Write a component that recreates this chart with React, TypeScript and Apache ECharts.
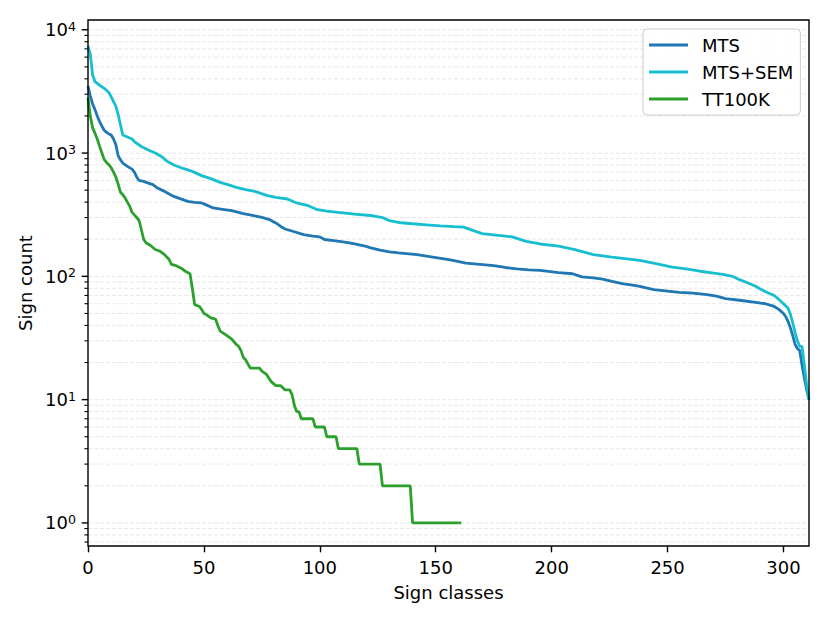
import React, { useEffect, useRef } from "react";
import * as echarts from "echarts";

const FONT = "DejaVu Sans";
const FS = 18;

const seriesNames = ["MTS", "MTS+SEM", "TT100K"];
const seriesColors = ["#1f77b4", "#17becf", "#2ca02c"];

const mtsClasses = [0, 1, 2, 3, 4, 5, 6, 7, 8, 9, 10, 11, 12, 13, 14, 15, 17, 19, 20, 21, 22, 24, 26, 28, 30, 33, 35, 37, 40, 43, 46, 49, 51, 54, 58, 62, 65, 67, 71, 75, 78, 81, 83, 85, 89, 93, 97, 100, 102, 106, 110, 114, 119, 122, 126, 130, 134, 142, 148, 155, 159, 163, 169, 175, 180, 185, 190, 195, 203, 209, 213, 218, 222, 226, 231, 235, 238, 244, 250, 255, 261, 267, 271, 275, 281, 288, 292, 296, 298, 300, 301, 302, 303, 304, 305, 306, 307, 308, 309, 310, 311];
const mtsCounts = [3500, 2900, 2500, 2250, 2000, 1800, 1650, 1530, 1470, 1430, 1400, 1300, 1170, 950, 880, 830, 780, 740, 700, 640, 600, 589, 570, 554, 520, 489, 465, 445, 425, 406, 398, 394, 380, 359, 350, 341, 330, 323, 312, 301, 290, 271, 255, 242, 230, 218, 212, 209, 199, 195, 190, 185, 177, 170, 163, 158, 155, 150, 144, 137, 133, 128, 125, 122, 118, 115, 113, 112, 107, 105, 99, 97, 95, 91, 87, 85, 83, 78, 76, 74, 73, 71, 69, 66, 64, 61.5, 60, 57, 54, 50, 47, 43, 38, 33, 28, 26, 25, 19, 15, 12, 10];

const semClasses = [0, 1, 2, 3, 5, 7, 9, 10, 12, 13, 14, 15, 17, 19, 20, 23, 26, 29, 32, 34, 37, 41, 45, 49, 53, 57, 61, 64, 68, 72, 77, 81, 86, 90, 95, 99, 103, 108, 115, 123, 127, 130, 135, 140, 146, 152, 158, 162, 166, 170, 177, 183, 189, 195, 203, 210, 214, 218, 226, 238, 245, 252, 258, 264, 270, 275, 278, 281, 285, 288, 290, 293, 296, 298, 300, 302, 303, 304, 305, 306, 307, 308, 309, 310, 311];
const semCounts = [7400, 6300, 4300, 3800, 3550, 3350, 3100, 2850, 2400, 2050, 1700, 1400, 1350, 1300, 1240, 1130, 1060, 1000, 930, 860, 800, 750, 710, 656, 620, 578, 550, 527, 505, 489, 454, 437, 424, 394, 374, 347, 338, 330, 320, 310, 300, 283, 272, 267, 262, 257, 253, 251, 236, 222, 215, 209, 192, 183, 176, 165, 157, 150, 143, 135, 127, 119, 115, 110, 106, 103, 100, 94, 88, 83, 79, 74, 70, 65, 60, 55, 49, 42, 35, 30, 27, 27, 19, 13, 10];

const ttClasses = [0, 1, 2, 3, 4, 5, 6, 7, 8, 9, 10, 11, 12, 13, 14, 15, 16, 17, 18, 19, 20, 21, 22, 23, 24, 25, 27, 29, 31, 33, 35, 36, 38, 40, 42, 44, 45, 46, 48, 49, 50, 51, 53, 55, 56, 57, 59, 61, 62, 64, 65, 66, 67, 68, 70, 74, 75, 77, 79, 81, 83, 85, 87, 88, 89, 90, 91, 92, 97, 98, 102, 103, 107, 108, 116, 117, 126, 127, 139, 140, 161];
const ttCounts = [2800, 1985, 1600, 1450, 1300, 1133, 1000, 884, 840, 805, 760, 700, 640, 560, 480, 460, 432, 400, 370, 330, 315, 300, 285, 240, 200, 187, 178, 165, 160, 150, 137, 125, 122, 117, 110, 105, 80, 59, 57, 54, 50, 49, 46, 45, 40, 36, 34, 32, 31, 28, 27, 25, 22, 21, 18, 18, 17, 16, 14, 13, 13, 12, 12, 11, 9, 8, 8, 7, 7, 6, 6, 5, 5, 4, 4, 3, 3, 2, 2, 1, 1];

const xTicks = [0, 50, 100, 150, 200, 250, 300];
const xMax = 311;
const yMin = 0.65;
const yMax = 12000;
const yDecades = [0.1, 1, 10, 100, 1000, 10000];
const yMajorTicks = [1, 10, 100, 1000, 10000];
const yMultipliers = [1, 2, 3, 4, 5, 6, 7, 8, 9];

const zip = (xs: number[], ys: number[]) => xs.map((x, i) => [x, ys[i]]);

export default function App() {
  const ref = useRef<HTMLDivElement>(null);
  useEffect(() => {
    document.body.style.margin = "0";
    if (!ref.current) return;
    const chart = echarts.init(ref.current, null, { renderer: "svg" });

    const gridValues: number[][] = [];
    yDecades.forEach((d) =>
      yMultipliers.forEach((m) => {
        const v = parseFloat((d * m).toPrecision(6));
        if (v > yMin && v < yMax) gridValues.push([0, v]);
      })
    );

    const dataSets = [zip(mtsClasses, mtsCounts), zip(semClasses, semCounts), zip(ttClasses, ttCounts)];

    const option: any = {
      animation: false,
      backgroundColor: "#ffffff",
      textStyle: { fontFamily: FONT },
      grid: {
        left: 88,
        right: 21,
        top: 20,
        bottom: 77,
        show: true,
        borderColor: "#000000",
        borderWidth: 1.4,
        backgroundColor: "transparent",
        z: 5,
      },
      legend: {
        data: seriesNames.map((n) => ({ name: n, icon: "rect" })),
        left: 643,
        top: 29,
        orient: "vertical",
        itemWidth: 39,
        itemHeight: 2.8,
        itemGap: 9,
        padding: [7, 7, 7, 6],
        borderColor: "#cccccc",
        borderWidth: 1,
        borderRadius: 4,
        backgroundColor: "rgba(255,255,255,0.8)",
        textStyle: { fontFamily: FONT, fontSize: FS, color: "#000", lineHeight: 18, padding: [0, 0, 0, 9] },
      },
      xAxis: {
        type: "value",
        min: 0,
        max: xMax,
        name: "Sign classes",
        nameLocation: "middle",
        nameGap: 37,
        nameTextStyle: { fontFamily: FONT, fontSize: FS, color: "#000" },
        axisLine: { show: false },
        splitLine: { show: false },
        axisTick: {
          show: true,
          inside: false,
          length: 6.3,
          customValues: xTicks,
          lineStyle: { color: "#000", width: 1.4 },
        },
        axisLabel: {
          customValues: xTicks,
          margin: 12,
          fontFamily: FONT,
          fontSize: FS,
          color: "#000",
        },
      },
      yAxis: {
        type: "log",
        logBase: 10,
        min: yMin,
        max: yMax,
        name: "Sign count",
        nameLocation: "middle",
        nameGap: 52,
        nameTextStyle: { fontFamily: FONT, fontSize: FS, color: "#000" },
        axisLine: { show: false },
        splitLine: { show: false },
        axisTick: { show: false },
        axisLabel: {
          customValues: yMajorTicks,
          margin: 12,
          formatter: (v: number) => {
            const e = Math.round(Math.log10(v));
            return `{b|10}{s|${e}}`;
          },
          rich: {
            b: { fontFamily: FONT, fontSize: FS, lineHeight: 18, color: "#000" },
            s: { fontFamily: FONT, fontSize: 12.6, lineHeight: 12.6, color: "#000", padding: [0, 0, 7, 0] },
          },
        },
      },
      series: [
        {
          type: "custom",
          name: "grid",
          silent: true,
          z: 1,
          clip: false,
          encode: { x: 0, y: 1 },
          data: gridValues,
          renderItem: (params: any, api: any) => {
            const v = api.value(1);
            const pt = api.coord([0, v]);
            const cs = params.coordSys;
            const lg = Math.log10(v);
            const major = Math.abs(lg - Math.round(lg)) < 1e-6;
            return {
              type: "group",
              children: [
                {
                  type: "line",
                  shape: { x1: cs.x, y1: pt[1], x2: cs.x + cs.width, y2: pt[1] },
                  style: { stroke: "#e2e2e2", lineWidth: 0.8, lineDash: [4, 2] },
                },
                {
                  type: "line",
                  shape: { x1: cs.x - (major ? 6.3 : 3.6), y1: pt[1], x2: cs.x, y2: pt[1] },
                  style: { stroke: "#000", lineWidth: major ? 1.4 : 1.1 },
                },
              ],
            };
          },
        },
        ...seriesNames.map((name, i) => ({
          type: "line",
          name,
          data: dataSets[i],
          showSymbol: false,
          symbol: "none",
          z: 2 + i,
          color: seriesColors[i],
          itemStyle: { color: seriesColors[i] },
          lineStyle: { color: seriesColors[i], width: 2.8 },
        })),
      ],
    };
    chart.setOption(option);
    return () => chart.dispose();
  }, []);
  return <div ref={ref} style={{ width: 830, height: 623 }} />;
}
